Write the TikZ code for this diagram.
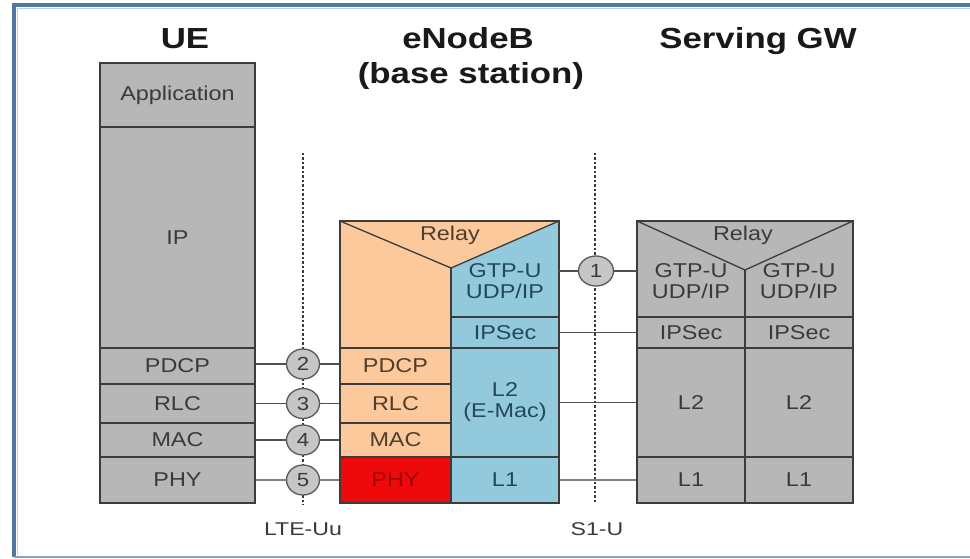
\documentclass[tikz,border=0pt]{standalone}
\usepackage{fontspec}
\setmainfont{Liberation Sans}
\newfontfamily\boxfont{Liberation Sans}[FakeStretch=1.17]
\newfontfamily\titlefont{Liberation Sans}[FakeStretch=1.2]
\newfontfamily\labfont{Liberation Sans}[FakeStretch=1.25]
\usetikzlibrary{shapes.geometric}
\definecolor{grayc}{HTML}{B7B7B7}
\definecolor{orangec}{HTML}{FBC99B}
\definecolor{bluec}{HTML}{92C9DD}
\definecolor{redc}{HTML}{EE0A0A}
\definecolor{circc}{HTML}{C6C6C6}
\definecolor{linec}{HTML}{3C3C3C}
\definecolor{textc}{HTML}{3A3A3A}
\definecolor{browntext}{HTML}{4E3E2E}
\definecolor{bluetext}{HTML}{23485A}
\definecolor{redtext}{HTML}{9E0000}
\definecolor{framedark}{HTML}{52789F}
\definecolor{framelight}{HTML}{B9D3EE}
\definecolor{framemid}{HTML}{7FA3CC}
\begin{document}
\begin{tikzpicture}[x=1pt,y=-1pt,
  layer/.style={draw=linec, line width=1.3pt, inner sep=0pt, font=\boxfont\fontsize{20}{21}\selectfont, text=textc, align=center},
  uew/.style={minimum width=155pt},
  orw/.style={minimum width=111pt},
  blw/.style={minimum width=108pt},
  gww/.style={minimum width=108pt},
  boxline/.style={draw=linec, line width=1.3pt},
  region/.style={inner sep=0pt, minimum width=108pt, minimum height=96pt},
  plain/.style={font=\boxfont\fontsize{20}{21}\selectfont, align=center, inner sep=0pt},
  title/.style={font=\titlefont\bfseries\fontsize{29}{29}\selectfont, text=black!90, inner sep=0pt, anchor=base},
  circ/.style={ellipse, draw=linec!85, line width=1.3pt, fill=circc, inner sep=0pt, minimum width=33pt, minimum height=30pt, font=\boxfont\fontsize{19}{19}\selectfont, text=textc},
  link/.style={draw=linec!90, line width=1.4pt},
  glink/.style={draw=black!50, line width=2.4pt},
  ifline/.style={draw=linec, line width=1.1pt, dash pattern=on 2.5pt off 2pt},
  iflabel/.style={font=\labfont\fontsize{18.5}{18.5}\selectfont, text=textc, inner sep=0pt}
]
\useasboundingbox (0,0) rectangle (970,559);
\fill[white] (0,0) rectangle (970,559);
% frame
\draw[framedark, line width=4pt] (970,5.5) -- (14,5.5) -- (14,557);
\draw[framelight, line width=1pt] (970,9) -- (17,9) -- (17,555);
\draw[framemid, line width=2pt] (14,557) -- (970,557);

% titles
\node[title] (tue) at (185,49) {UE};
\node[title] (tenb) at (468,49) {eNodeB};
\node[title] (tbs) at (471,84) {(base station)};
\node[title] (tgw) at (758,49) {Serving GW};

% interface lines
\coordinate (uutop) at (303,153);
\coordinate (uubot) at (303,505);
\coordinate (s1top) at (595,153);
\coordinate (s1bot) at (595,503);
\draw[ifline] (uutop) -- (uubot);
\draw[ifline] (s1top) -- (s1bot);

% UE stack
\node[layer, fill=grayc, uew, minimum height=64pt] (ueapp) at (177.5,95) {Application};
\node[layer, fill=grayc, uew, minimum height=221pt] (ueip) at (177.5,237.5) {IP};
\node[layer, fill=grayc, uew, minimum height=36pt] (uepdcp) at (177.5,366) {PDCP};
\node[layer, fill=grayc, uew, minimum height=39pt] (uerlc) at (177.5,403.5) {RLC};
\node[layer, fill=grayc, uew, minimum height=34pt] (uemac) at (177.5,440) {MAC};
\node[layer, fill=grayc, uew, minimum height=46pt] (uephy) at (177.5,480) {PHY};

% eNodeB upper part
\fill[orangec] (340,221) -- (559,221) -- (451,268) -- (451,348) -- (340,348) -- cycle;
\fill[bluec] (451,268) -- (559,221) -- (559,317) -- (451,317) -- cycle;
\draw[boxline] (340,348) -- (340,221) -- (559,221) -- (559,317);
\draw[boxline] (340,221) -- (451,268) -- (559,221);
\draw[boxline] (451,268) -- (451,348);
\node[region] (engtp) at (505,269) {};
\node[plain, text=browntext] (enrelay) at (450,235) {Relay};
\node[plain, text=bluetext] (engtptxt) at (505,281) {GTP-U\\UDP/IP};

% eNodeB stack
\node[layer, fill=orangec, orw, minimum height=36pt, text=browntext] (enpdcp) at (395.5,366) {PDCP};
\node[layer, fill=orangec, orw, minimum height=39pt, text=browntext] (enrlc) at (395.5,403.5) {RLC};
\node[layer, fill=orangec, orw, minimum height=34pt, text=browntext] (enmac) at (395.5,440) {MAC};
\node[layer, fill=redc, orw, minimum height=46pt, text=redtext] (enphy) at (395.5,480) {PHY};
\node[layer, fill=bluec, blw, minimum height=31pt, text=bluetext] (enipsec) at (505,332.5) {IPSec};
\node[layer, fill=bluec, blw, minimum height=109pt, text=bluetext] (enl2) at (505,402.5) {L2\\(E-Mac)};
\node[layer, fill=bluec, blw, minimum height=46pt, text=bluetext] (enl1) at (505,480) {L1};

% Serving GW upper part
\fill[grayc] (637,221) rectangle (853,317);
\draw[boxline] (637,317) -- (637,221) -- (853,221) -- (853,317);
\draw[boxline] (637,221) -- (745,270) -- (853,221);
\draw[boxline] (745,270) -- (745,317);
\node[region] (gwgtpl) at (691,269) {};
\node[region] (gwgtpr) at (799,269) {};
\node[plain, text=textc] (gwrelay) at (743,235) {Relay};
\node[plain, text=textc] (gwgtpltxt) at (691,281) {GTP-U\\UDP/IP};
\node[plain, text=textc] (gwgtprtxt) at (799,281) {GTP-U\\UDP/IP};

% Serving GW stacks
\node[layer, fill=grayc, gww, minimum height=31pt] (gwipsecl) at (691,332.5) {IPSec};
\node[layer, fill=grayc, gww, minimum height=109pt] (gwl2l) at (691,402.5) {L2};
\node[layer, fill=grayc, gww, minimum height=46pt] (gwl1l) at (691,480) {L1};
\node[layer, fill=grayc, gww, minimum height=31pt] (gwipsecr) at (799,332.5) {IPSec};
\node[layer, fill=grayc, gww, minimum height=109pt] (gwl2r) at (799,402.5) {L2};
\node[layer, fill=grayc, gww, minimum height=46pt] (gwl1r) at (799,480) {L1};

% circles
\node[circ, minimum width=35pt, minimum height=30pt] (c1) at (596,271) {1};
\node[circ] (c2) at (303,364) {2};
\node[circ] (c3) at (303,403.5) {3};
\node[circ] (c4) at (303,440) {4};
\node[circ] (c5) at (303,480) {5};

% connectors
\draw[link] (engtp.east |- c1) -- (c1);
\draw[link] (c1) -- (c1 -| gwgtpl.west);
\draw[link] (uepdcp.east |- c2) -- (c2);
\draw[link] (c2) -- (c2 -| enpdcp.west);
\draw[link] (uerlc.east) -- (c3);
\draw[link] (c3) -- (enrlc.west);
\draw[link] (uemac.east) -- (c4);
\draw[link] (c4) -- (enmac.west);
\draw[glink] (uephy.east) -- (c5);
\draw[glink] (c5) -- (enphy.west);
\draw[link] (enipsec.east) -- (gwipsecl.west);
\draw[link] (enl2.east) -- (gwl2l.west);
\draw[glink] (enl1.east) -- (gwl1l.west);

% interface labels
\node[iflabel] (luu) at (303,529) {LTE-Uu};
\node[iflabel] (ls1) at (597,529) {S1-U};
\end{tikzpicture}
\end{document}
